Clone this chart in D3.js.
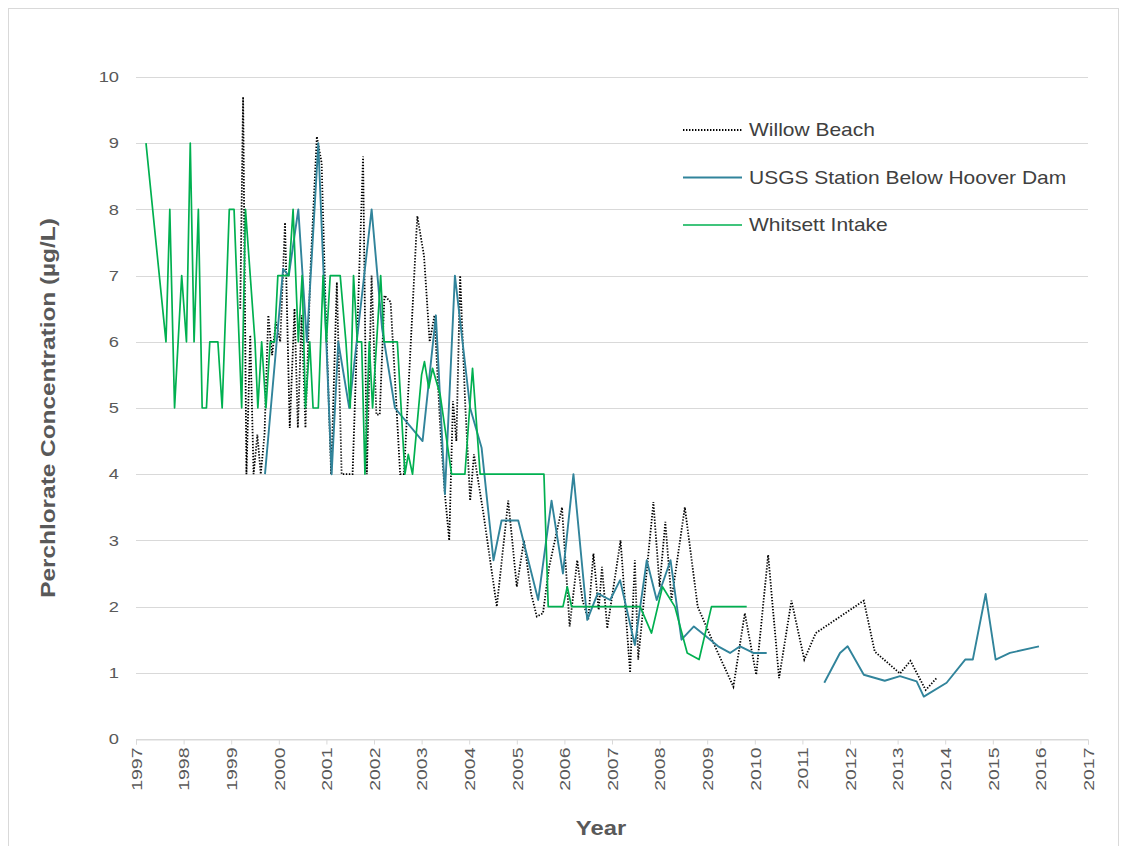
<!DOCTYPE html>
<html><head><meta charset="utf-8">
<script src="https://cdn.jsdelivr.net/npm/d3@7"></script>
<style>body{margin:0;background:#fff}svg{display:block}text{font-family:"Liberation Sans",Arial,sans-serif}</style>
</head><body><svg id="c" width="1122" height="846"></svg>
<script>
const seriesNames = ["Willow Beach","USGS Station Below Hoover Dam","Whitsett Intake"];
const yearTicks = d3.range(1997, 2018);
const concTicks = d3.range(0, 11);

const willowBeach = [[1999.19,6.5],[1999.25,9.7],[1999.32,4.0],[1999.40,6.1],[1999.47,4.0],[1999.55,4.6],[1999.62,4.0],[1999.70,4.6],[1999.78,6.4],[1999.86,5.8],[1999.94,6.3],[2000.03,6.0],[2000.13,7.8],[2000.23,4.7],[2000.33,6.5],[2000.40,4.7],[2000.48,6.4],[2000.56,4.7],[2000.66,7.0],[2000.80,9.1],[2000.90,8.7],[2000.98,6.6],[2001.10,4.0],[2001.22,6.9],[2001.32,4.0],[2001.45,4.0],[2001.55,4.0],[2001.77,8.8],[2001.85,4.0],[2001.95,7.0],[2002.05,4.9],[2002.12,4.9],[2002.22,6.7],[2002.35,6.6],[2002.55,4.0],[2002.63,4.0],[2002.91,7.9],[2003.05,7.3],[2003.17,6.0],[2003.27,6.4],[2003.40,4.6],[2003.49,3.7],[2003.58,3.0],[2003.66,5.1],[2003.73,4.5],[2003.81,7.0],[2003.92,5.0],[2004.02,3.6],[2004.10,4.3],[2004.30,3.4],[2004.58,2.0],[2004.82,3.6],[2005.00,2.3],[2005.15,3.0],[2005.30,2.2],[2005.42,1.85],[2005.55,1.9],[2005.68,2.6],[2005.95,3.5],[2006.11,1.7],[2006.27,2.7],[2006.38,2.1],[2006.50,1.8],[2006.61,2.8],[2006.72,1.95],[2006.79,2.6],[2006.90,1.67],[2007.18,3.0],[2007.38,1.0],[2007.48,2.7],[2007.55,1.2],[2007.87,3.58],[2008.00,2.3],[2008.12,3.28],[2008.25,2.1],[2008.53,3.5],[2008.80,2.0],[2009.10,1.5],[2009.55,0.79],[2009.79,1.9],[2010.03,0.97],[2010.28,2.78],[2010.51,0.92],[2010.77,2.09],[2011.04,1.2],[2011.28,1.6],[2012.29,2.09],[2012.52,1.32],[2013.05,0.99],[2013.27,1.18],[2013.59,0.74],[2013.82,0.92]];

const usgsHoover = [[1999.71,4.0],[2000.09,7.1],[2000.21,7.0],[2000.41,8.0],[2000.59,6.0],[2000.83,9.0],[2001.11,4.0],[2001.25,6.0],[2001.48,5.0],[2001.95,8.0],[2002.17,6.2],[2002.44,5.0],[2003.02,4.5],[2003.30,6.4],[2003.49,3.7],[2003.70,7.0],[2004.02,5.0],[2004.26,4.4],[2004.51,2.7],[2004.68,3.3],[2005.03,3.3],[2005.45,2.1],[2005.73,3.6],[2005.97,2.5],[2006.19,4.0],[2006.48,1.8],[2006.70,2.2],[2006.96,2.1],[2007.17,2.4],[2007.48,1.42],[2007.73,2.7],[2007.94,2.1],[2008.23,2.7],[2008.46,1.5],[2008.72,1.7],[2008.98,1.55],[2009.23,1.4],[2009.48,1.3],[2009.69,1.4],[2009.97,1.3],[2010.25,1.3],[2010.8,null],[2011.46,0.85],[2011.79,1.3],[2011.95,1.4],[2012.29,0.97],[2012.73,0.88],[2013.05,0.95],[2013.40,0.87],[2013.55,0.64],[2014.03,0.85],[2014.42,1.2],[2014.58,1.2],[2014.85,2.19],[2015.06,1.2],[2015.36,1.3],[2015.97,1.4]];

const whitsettIntake = [[1997.21,9],[1997.63,6],[1997.71,8],[1997.81,5],[1997.96,7],[1998.06,6],[1998.14,9],[1998.22,6],[1998.31,8],[1998.39,5],[1998.48,5],[1998.55,6],[1998.72,6],[1998.81,5],[1998.96,8],[1999.06,8],[1999.22,5],[1999.30,8],[1999.50,6],[1999.56,5],[1999.64,6],[1999.73,5],[1999.82,6],[1999.91,6],[1999.98,7],[2000.09,7],[2000.21,7],[2000.30,8],[2000.41,6],[2000.49,7],[2000.56,5],[2000.65,6],[2000.72,5],[2000.83,5],[2000.93,7],[2001.00,6],[2001.08,7],[2001.29,7],[2001.41,6],[2001.50,5],[2001.57,7],[2001.65,6],[2001.74,6],[2001.81,4],[2001.90,6],[2001.97,5],[2002.14,7],[2002.21,6],[2002.49,6],[2002.65,4],[2002.72,4.3],[2002.81,4],[2003.00,5.5],[2003.06,5.7],[2003.15,5.3],[2003.23,5.6],[2003.39,5.2],[2003.63,4.0],[2003.91,4.0],[2004.07,5.6],[2004.23,4.0],[2005.57,4.0],[2005.66,2.0],[2005.97,2.0],[2006.06,2.3],[2006.15,2.0],[2007.59,2.0],[2007.83,1.6],[2008.06,2.3],[2008.32,2.0],[2008.58,1.3],[2008.83,1.2],[2009.09,2.0],[2009.83,2.0]];

const svg = d3.select("#c");
const L = 136, R = 1088, T = 77, B = 739;
const SX = 1.22; // horizontal stretch of the reference lettering
const x = d3.scaleLinear().domain([1997, 2017]).range([L, R]);
const y = d3.scaleLinear().domain([0, 10]).range([B, T]);

svg.append("rect").attr("x",8.5).attr("y",8.5).attr("width",1110).attr("height",850)
  .attr("fill","#fff").attr("stroke","#d9d9d9");

// grid
svg.append("g").selectAll("line").data(concTicks).join("line")
  .attr("x1",L).attr("x2",R).attr("y1",d=>Math.round(y(d))+0.5).attr("y2",d=>Math.round(y(d))+0.5)
  .attr("stroke","#d9d9d9").attr("stroke-width",1);

// y labels
svg.append("g").selectAll("text").data(concTicks).join("text")
  .attr("transform",d=>`translate(119,${y(d)}) scale(${SX},1)`)
  .attr("dy","0.35em").attr("text-anchor","end")
  .attr("font-size",15).attr("fill","#595959").text(d=>d);

// x axis
const xAxis = d3.axisBottom(x).tickValues(yearTicks).tickFormat(d3.format("d")).tickSize(5).tickPadding(4);
const gx = svg.append("g").attr("transform",`translate(0,${Math.round(B)+0.5})`).call(xAxis);
gx.select(".domain").attr("stroke","#d9d9d9");
gx.selectAll(".tick line").attr("stroke","#d9d9d9");
gx.selectAll(".tick text").attr("font-size",15).attr("fill","#595959")
  .attr("font-family","Liberation Sans, Arial, sans-serif")
  .attr("transform",`rotate(-90) scale(1.3,1)`).attr("text-anchor","end")
  .attr("x",-8/1.3).attr("y",0).attr("dy","0.35em");

const line = d3.line().defined(d=>d[1]!=null).x(d=>x(d[0])).y(d=>y(d[1]));

svg.append("path").datum(willowBeach).attr("d",line).attr("fill","none")
  .attr("stroke","#000").attr("stroke-width",1.8).attr("stroke-dasharray","1.4,1.6");
svg.append("path").datum(usgsHoover).attr("d",line).attr("fill","none")
  .attr("stroke","#31849b").attr("stroke-width",1.9).attr("stroke-linejoin","round");
svg.append("path").datum(whitsettIntake).attr("d",line).attr("fill","none")
  .attr("stroke","#00b050").attr("stroke-width",1.7).attr("stroke-linejoin","round");

// titles
svg.append("text").attr("transform","translate(55,408) rotate(-90) scale(1.25,1)").attr("text-anchor","middle")
  .attr("font-size",19.5).attr("font-weight","bold").attr("fill","#595959").text("Perchlorate Concentration (µg/L)");
svg.append("text").attr("transform",`translate(601,835) scale(${SX},1)`).attr("text-anchor","middle")
  .attr("font-size",19.5).attr("font-weight","bold").attr("fill","#595959").text("Year");

// legend
const legendStyles = [
  {stroke:"#000", w:1.8, dash:"1.4,1.6"},
  {stroke:"#31849b", w:1.9, dash:null},
  {stroke:"#00b050", w:1.7, dash:null}
];
const lg = svg.append("g").selectAll("g").data(seriesNames).join("g")
  .attr("transform",(d,i)=>`translate(683,${130+i*47.5})`);
lg.append("line").attr("x1",0).attr("x2",59).attr("y1",0).attr("y2",0)
  .attr("stroke",(d,i)=>legendStyles[i].stroke).attr("stroke-width",(d,i)=>legendStyles[i].w)
  .attr("stroke-dasharray",(d,i)=>legendStyles[i].dash);
lg.append("text").attr("transform",`translate(66,0) scale(1.2,1)`).attr("dy","0.35em").attr("font-size",17.5)
  .attr("fill","#404040").text(d=>d);
</script></body></html>
